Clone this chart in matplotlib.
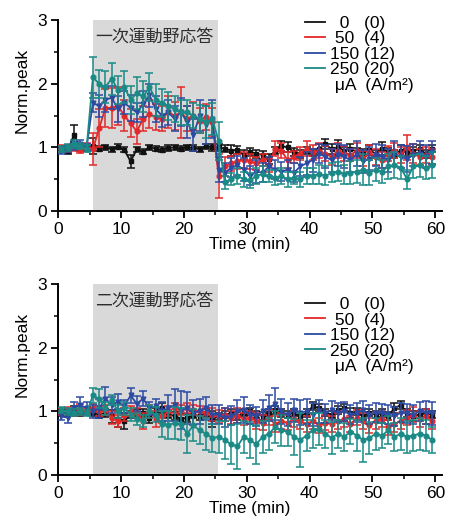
import numpy as np
import matplotlib.pyplot as plt
from matplotlib.lines import Line2D

plt.rcParams['font.family'] = ['Liberation Sans', 'DejaVu Sans']

# sampling times (min), one point per minute
time = np.arange(60) + 0.5

labels = ['  0   (0)', ' 50  (4)', '150 (12)', '250 (20)']
colors = ['#111111', '#e3282a', '#2d4aa3', '#1a8a86']
markers = ['s', 'o', 'v', 'o']

# ---- primary motor area (top panel)
top_0 = [0.97, 0.95, 1.20, 1.00, 0.98, 1.02, 0.98, 1.00, 0.97, 1.01,
         0.96, 0.78, 0.97, 0.93, 1.00, 0.98, 0.96, 0.99, 1.00, 0.98,
         1.00, 0.99, 0.97, 1.02, 1.00, 1.00, 0.98, 0.95, 0.96, 0.88,
         0.93, 0.90, 0.88, 0.82, 0.95, 1.02, 1.00, 0.93, 0.90, 0.95,
         0.92, 0.98, 1.05, 0.97, 1.00, 0.95, 0.98, 0.93, 0.92, 0.96,
         0.90, 0.98, 0.93, 0.90, 0.95, 0.92, 0.95, 0.97, 0.90, 0.98]
top_0_err = [0.05, 0.05, 0.15, 0.05, 0.04, 0.12, 0.04, 0.04, 0.04, 0.04,
             0.04, 0.10, 0.04, 0.04, 0.04, 0.04, 0.04, 0.04, 0.04, 0.04,
             0.04, 0.04, 0.04, 0.04, 0.05, 0.06, 0.06, 0.08, 0.06, 0.08,
             0.06, 0.06, 0.06, 0.08, 0.06, 0.08, 0.08, 0.06, 0.06, 0.06,
             0.06, 0.08, 0.08, 0.08, 0.12, 0.06, 0.08, 0.06, 0.06, 0.08,
             0.06, 0.10, 0.06, 0.06, 0.08, 0.06, 0.06, 0.06, 0.06, 0.06]
top_50 = [0.98, 0.97, 1.00, 0.96, 1.02, 0.97, 1.30, 1.62, 1.62, 1.65,
          1.50, 1.38, 1.25, 1.45, 1.52, 1.48, 1.45, 1.55, 1.50, 1.55,
          1.45, 1.50, 1.42, 1.48, 1.40, 0.55, 0.70, 0.75, 0.78, 0.80,
          0.78, 0.75, 0.80, 0.72, 0.98, 0.95, 0.80, 0.85, 0.90, 0.98,
          0.92, 0.95, 0.90, 0.85, 0.95, 0.90, 0.88, 0.95, 0.82, 0.92,
          0.85, 0.80, 0.90, 0.95, 0.88, 1.00, 0.90, 0.85, 0.88, 0.85]
top_50_err = [0.05, 0.05, 0.06, 0.05, 0.05, 0.25, 0.30, 0.30, 0.32, 0.30,
              0.25, 0.22, 0.20, 0.20, 0.22, 0.20, 0.20, 0.25, 0.22, 0.40,
              0.20, 0.22, 0.20, 0.20, 0.22, 0.35, 0.15, 0.12, 0.12, 0.12,
              0.12, 0.10, 0.10, 0.10, 0.12, 0.12, 0.12, 0.10, 0.10, 0.12,
              0.12, 0.12, 0.12, 0.12, 0.12, 0.12, 0.10, 0.12, 0.12, 0.12,
              0.12, 0.12, 0.12, 0.12, 0.12, 0.20, 0.15, 0.12, 0.12, 0.12]
top_150 = [0.95, 0.98, 1.02, 1.05, 1.00, 1.70, 1.65, 1.75, 1.78, 1.60,
           1.70, 1.62, 1.55, 1.68, 1.82, 1.60, 1.50, 1.55, 1.45, 1.55,
           1.40, 1.20, 1.50, 1.35, 1.45, 0.65, 0.60, 0.68, 0.72, 0.65,
           0.55, 0.62, 0.60, 0.70, 0.65, 0.62, 0.65, 0.60, 0.70, 0.75,
           0.80, 0.90, 0.85, 0.80, 0.88, 0.85, 0.80, 0.90, 0.78, 0.82,
           0.88, 0.85, 0.80, 0.90, 0.85, 0.82, 0.88, 0.90, 0.85, 0.92]
top_150_err = [0.05, 0.05, 0.06, 0.06, 0.05, 0.15, 0.18, 0.20, 0.18, 0.20,
               0.18, 0.20, 0.15, 0.20, 0.18, 0.20, 0.18, 0.20, 0.20, 0.22,
               0.25, 0.25, 0.25, 0.30, 0.30, 0.20, 0.15, 0.15, 0.15, 0.18,
               0.15, 0.18, 0.15, 0.15, 0.15, 0.15, 0.15, 0.15, 0.15, 0.18,
               0.18, 0.15, 0.18, 0.18, 0.18, 0.18, 0.18, 0.20, 0.18, 0.18,
               0.18, 0.18, 0.18, 0.20, 0.18, 0.20, 0.18, 0.20, 0.18, 0.18]
top_250 = [0.97, 1.00, 1.05, 1.02, 0.98, 2.10, 2.00, 1.95, 2.08, 1.90,
           1.95, 1.75, 1.85, 1.80, 1.95, 1.75, 1.70, 1.65, 1.60, 1.55,
           1.55, 1.50, 1.45, 1.40, 1.45, 1.10, 0.45, 0.50, 0.55, 0.50,
           0.48, 0.55, 0.58, 0.55, 0.52, 0.55, 0.50, 0.52, 0.50, 0.55,
           0.55, 0.58, 0.55, 0.60, 0.62, 0.58, 0.60, 0.62, 0.65, 0.60,
           0.65, 0.62, 0.70, 0.72, 0.68, 0.50, 0.70, 0.72, 0.68, 0.72]
top_250_err = [0.05, 0.05, 0.06, 0.05, 0.05, 0.32, 0.22, 0.25, 0.25, 0.22,
               0.25, 0.22, 0.25, 0.25, 0.22, 0.25, 0.22, 0.22, 0.20, 0.20,
               0.20, 0.20, 0.22, 0.25, 0.25, 0.30, 0.10, 0.10, 0.12, 0.12,
               0.12, 0.12, 0.12, 0.10, 0.12, 0.12, 0.12, 0.10, 0.12, 0.12,
               0.12, 0.15, 0.15, 0.15, 0.15, 0.15, 0.18, 0.18, 0.25, 0.20,
               0.18, 0.18, 0.20, 0.20, 0.18, 0.15, 0.18, 0.18, 0.18, 0.20]

# ---- secondary motor area (bottom panel)
bot_0 = [0.97, 0.98, 1.00, 0.97, 1.02, 0.98, 0.95, 0.97, 0.92, 0.88,
         0.85, 0.95, 0.98, 0.97, 0.90, 1.00, 1.05, 0.95, 0.93, 0.88,
         0.90, 0.95, 0.93, 0.97, 0.88, 0.92, 0.95, 0.97, 0.93, 0.98,
         1.00, 0.95, 0.93, 0.98, 1.02, 0.97, 0.95, 0.98, 0.93, 0.97,
         1.08, 1.05, 0.98, 0.95, 1.02, 1.05, 0.97, 1.00, 0.93, 0.98,
         0.95, 0.97, 0.93, 1.05, 1.10, 0.97, 0.93, 0.95, 0.97, 0.95]
bot_0_err = [0.05, 0.05, 0.08, 0.05, 0.05, 0.06, 0.06, 0.06, 0.10, 0.12,
             0.12, 0.06, 0.06, 0.06, 0.08, 0.06, 0.08, 0.06, 0.06, 0.08,
             0.06, 0.06, 0.06, 0.06, 0.12, 0.06, 0.06, 0.06, 0.06, 0.06,
             0.06, 0.06, 0.06, 0.06, 0.06, 0.06, 0.06, 0.06, 0.06, 0.06,
             0.06, 0.06, 0.06, 0.06, 0.06, 0.06, 0.08, 0.06, 0.06, 0.06,
             0.06, 0.06, 0.06, 0.08, 0.06, 0.06, 0.08, 0.06, 0.06, 0.06]
bot_50 = [1.00, 1.02, 0.98, 1.03, 1.00, 1.05, 1.00, 1.02, 0.90, 0.85,
          0.95, 1.00, 0.98, 0.85, 1.00, 0.88, 0.92, 1.00, 1.05, 1.02,
          1.05, 1.02, 1.00, 0.98, 0.95, 0.92, 0.95, 0.90, 0.93, 0.88,
          0.90, 0.85, 0.82, 0.90, 0.80, 0.85, 0.82, 0.88, 0.85, 0.80,
          0.85, 0.78, 0.82, 0.80, 0.85, 0.88, 0.80, 0.90, 0.85, 0.78,
          0.85, 0.88, 0.75, 0.80, 0.85, 0.90, 0.95, 0.88, 0.92, 0.85]
bot_50_err = [0.05, 0.05, 0.05, 0.08, 0.05, 0.06, 0.08, 0.08, 0.10, 0.10,
              0.10, 0.08, 0.08, 0.12, 0.10, 0.12, 0.10, 0.08, 0.08, 0.08,
              0.08, 0.08, 0.08, 0.08, 0.10, 0.10, 0.10, 0.10, 0.12, 0.10,
              0.10, 0.12, 0.12, 0.12, 0.12, 0.12, 0.12, 0.12, 0.12, 0.12,
              0.12, 0.12, 0.12, 0.12, 0.12, 0.12, 0.12, 0.12, 0.12, 0.12,
              0.12, 0.12, 0.12, 0.12, 0.12, 0.12, 0.12, 0.12, 0.12, 0.12]
bot_150 = [0.92, 0.90, 1.05, 1.10, 1.05, 1.00, 1.05, 1.20, 1.10, 1.15,
           1.08, 1.25, 1.12, 1.20, 1.05, 1.08, 1.00, 1.05, 1.10, 1.02,
           1.05, 0.98, 1.00, 1.05, 0.95, 0.95, 0.90, 0.93, 1.00, 1.02,
           0.95, 0.92, 1.00, 1.05, 1.12, 1.00, 0.95, 1.02, 0.98, 1.00,
           0.95, 1.00, 0.97, 1.02, 0.98, 1.00, 0.95, 0.98, 1.02, 0.95,
           0.98, 0.97, 0.95, 0.92, 0.98, 0.97, 0.95, 1.00, 0.98, 0.97]
bot_150_err = [0.06, 0.08, 0.10, 0.12, 0.10, 0.10, 0.15, 0.18, 0.12, 0.12,
               0.10, 0.12, 0.12, 0.12, 0.10, 0.12, 0.15, 0.20, 0.25, 0.30,
               0.25, 0.20, 0.20, 0.18, 0.15, 0.15, 0.15, 0.15, 0.18, 0.20,
               0.15, 0.15, 0.18, 0.20, 0.25, 0.20, 0.18, 0.18, 0.20, 0.20,
               0.18, 0.18, 0.15, 0.15, 0.15, 0.15, 0.15, 0.15, 0.15, 0.15,
               0.15, 0.15, 0.15, 0.15, 0.15, 0.15, 0.15, 0.15, 0.18, 0.18]
bot_250 = [1.02, 1.00, 0.98, 1.00, 0.97, 1.25, 1.20, 1.05, 1.18, 1.00,
           1.05, 0.95, 0.88, 0.85, 1.00, 0.95, 0.80, 0.78, 0.82, 0.80,
           0.65, 0.78, 0.70, 0.65, 0.58, 0.60, 0.55, 0.48, 0.45, 0.60,
           0.55, 0.48, 0.60, 0.65, 0.75, 0.70, 0.68, 0.60, 0.55, 0.62,
           0.70, 0.72, 0.65, 0.58, 0.65, 0.60, 0.68, 0.62, 0.55, 0.58,
           0.65, 0.62, 0.70, 0.60, 0.65, 0.60, 0.62, 0.65, 0.62, 0.55]
bot_250_err = [0.05, 0.05, 0.05, 0.05, 0.05, 0.12, 0.15, 0.10, 0.08, 0.10,
               0.10, 0.10, 0.10, 0.10, 0.10, 0.12, 0.20, 0.22, 0.25, 0.25,
               0.30, 0.25, 0.22, 0.25, 0.22, 0.25, 0.30, 0.30, 0.35, 0.25,
               0.28, 0.30, 0.25, 0.25, 0.25, 0.25, 0.22, 0.28, 0.42, 0.25,
               0.28, 0.25, 0.22, 0.25, 0.22, 0.22, 0.20, 0.25, 0.35, 0.25,
               0.25, 0.20, 0.22, 0.22, 0.25, 0.25, 0.25, 0.25, 0.25, 0.20]

panels = [
    ('一次運動野応答', [top_0, top_50, top_150, top_250],
     [top_0_err, top_50_err, top_150_err, top_250_err], 1.06),
    ('二次運動野応答', [bot_0, bot_50, bot_150, bot_250],
     [bot_0_err, bot_50_err, bot_150_err, bot_250_err], 0.97),
]

fig = plt.figure(figsize=(4.52, 5.17), dpi=100)
axes = [fig.add_axes([0.129, 0.592, 0.848, 0.369]),
        fig.add_axes([0.129, 0.0813, 0.848, 0.369])]

draw_order = [1, 2, 3, 0]

for ax, (title, series, errs, leg_y) in zip(axes, panels):
    ax.axvspan(5.5, 25.4, color='#d9d9d9', lw=0, zorder=0)
    for i in draw_order:
        ax.errorbar(time, series[i], yerr=errs[i], color=colors[i],
                    marker=markers[i], ms=3.4, lw=1.3, elinewidth=1.1,
                    capsize=2.8, capthick=1.1, zorder=2 + i)
    ax.text(5.9, 2.72, title, family=['Noto Sans CJK JP'], fontsize=12.2,
            color='#2e2e2e', va='center', ha='left', zorder=10)

    handles = [Line2D([], [], color=c, lw=1.3) for c in colors]
    handles.append(Line2D([], [], color='none'))
    ax.legend(handles, labels + [' μA  (A/m²)'], loc='upper left',
              bbox_to_anchor=(0.625, leg_y), frameon=False, fontsize=12.5,
              handlelength=1.15, handletextpad=0.3, labelspacing=0.02,
              borderaxespad=0)

    ax.set_xlim(0, 61)
    ax.set_ylim(0, 3)
    ax.set_xticks([0, 10, 20, 30, 40, 50, 60])
    ax.set_xticks(np.arange(5, 60, 10), minor=True)
    ax.set_yticks([0, 1, 2, 3])
    ax.set_yticks([0.5, 1.5, 2.5], minor=True)
    for s in ['top', 'right']:
        ax.spines[s].set_visible(False)
    for s in ['left', 'bottom']:
        ax.spines[s].set_linewidth(1.4)
    ax.tick_params(which='major', direction='out', length=5, width=1.3,
                   labelsize=12.5, pad=3)
    ax.tick_params(which='minor', direction='out', length=3, width=1.1)
    ax.set_xlabel('Time (min)', fontsize=12.3, labelpad=0)
    ax.set_ylabel('Norm.peak', fontsize=12.5)
    ax.yaxis.set_label_coords(-0.075, 0.63)

fig.savefig('out.png', dpi=100)
